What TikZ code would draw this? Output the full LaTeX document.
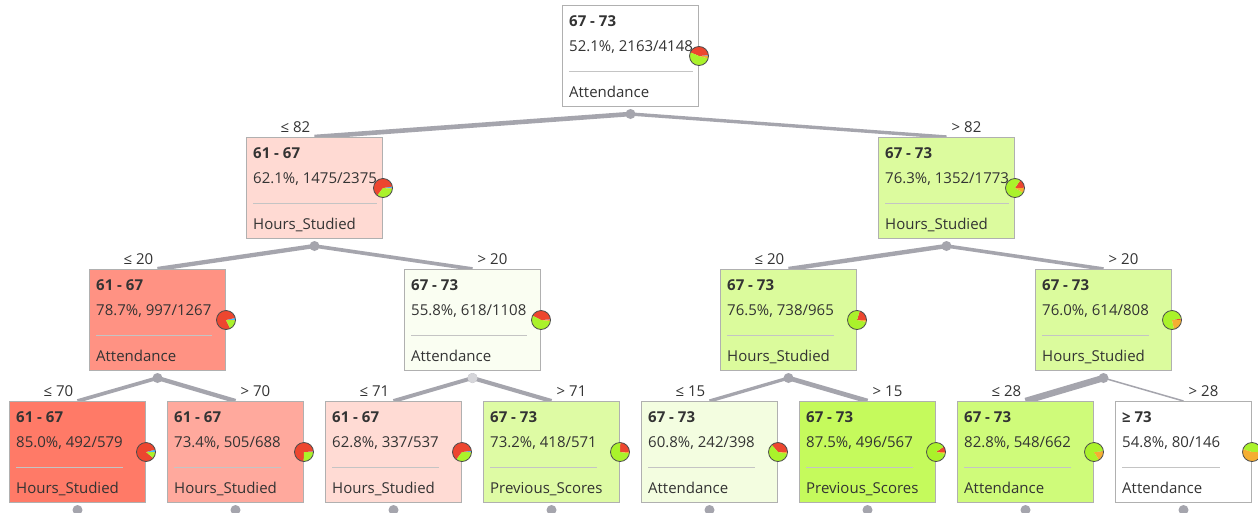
\documentclass[tikz,border=0pt]{standalone}
\usepackage{fontspec}
\setmainfont{Open Sans}
\usetikzlibrary{calc}
\pgfdeclarelayer{bg}
\pgfsetlayers{bg,main}
\definecolor{txt}{HTML}{333333}
\definecolor{bordc}{HTML}{B0B0B0}
\definecolor{sepc}{HTML}{C4C4C4}
\definecolor{edgec}{HTML}{A5A5AD}
\definecolor{dotlight}{HTML}{D6D6DA}
\definecolor{cb}{HTML}{46BEFA}
\definecolor{cr}{HTML}{ED462F}
\definecolor{cg}{HTML}{AAF22B}
\definecolor{co}{HTML}{F5AE32}
\definecolor{fl1l}{HTML}{FFDAD3}
\definecolor{fl1r}{HTML}{DCFB9E}
\definecolor{fA}{HTML}{FF9283}
\definecolor{fB}{HTML}{FAFEF2}
\definecolor{fC}{HTML}{DBFB9C}
\definecolor{fD}{HTML}{DBFB9D}
\definecolor{fn1}{HTML}{FF7A67}
\definecolor{fn2}{HTML}{FFA99D}
\definecolor{fn3}{HTML}{FFDBD4}
\definecolor{fn4}{HTML}{DEFBA4}
\definecolor{fn5}{HTML}{F3FDE0}
\definecolor{fn6}{HTML}{C5FA5C}
\definecolor{fn7}{HTML}{CFFB7A}
\definecolor{fn8}{HTML}{FFFFFF}
\tikzset{
  tbox/.style={rectangle, draw=bordc, line width=1pt, minimum width=136pt, minimum height=101pt, anchor=north west, inner sep=0pt},
  ttext/.style={anchor=base west, inner sep=0pt, text=txt, font=\fontsize{15}{17}\selectfont},
  ttitle/.style={ttext, font=\fontsize{15}{17}\selectfont\bfseries},
  tsep/.style={draw=sepc, line width=1pt},
  tdot/.style={circle, fill=edgec, minimum size=10pt, inner sep=0pt},
  edge/.style={draw=edgec},
  elabl/.style={anchor=base east, inner sep=0pt, text=txt, font=\fontsize{15}{17}\selectfont},
  elabr/.style={anchor=base west, inner sep=0pt, text=txt, font=\fontsize{15}{17}\selectfont},
  pieline/.style={draw=black!70, line width=0.8pt}
}
% #1 name, #2 left, #3 top, #4 fill, #5 title, #6 stats, #7 attribute
\newcommand\treenode[7]{%
  \node[tbox, fill=#4] (#1) at (#2,#3) {};
  \node[ttitle] (#1-t) at ([shift={(7,21)}]#1.north west) {#5};
  \node[ttext] (#1-s) at ([shift={(7,46)}]#1.north west) {#6};
  \coordinate (#1-a) at ([shift={(7,66)}]#1.north west);
  \draw[tsep] (#1-a) -- (#1-a -| #1-s.east);
  \node[ttext] (#1-v) at ([shift={(7,92)}]#1.north west) {#7};
  \node[tdot] (#1-d) at ([shift={(0,7)}]#1.south) {};
}
% #1 node, #2..#5 percentages blue, red, green, orange
\newcommand\treepie[5]{%
  \coordinate (#1-p) at ([shift={(0,51)}]#1.north east);
  \begin{scope}[shift={(#1-p)}, x=1pt, y=1pt]
    \pgfmathsetmacro\pa{3.6*(#2)}
    \pgfmathsetmacro\pb{3.6*(#2+#3)}
    \pgfmathsetmacro\pc{3.6*(#2+#3+#4)}
    \fill[cb] (0,0) -- (0:9.5) arc[start angle=0, end angle=\pa, radius=9.5] -- cycle;
    \fill[cr] (0,0) -- (\pa:9.5) arc[start angle=\pa, end angle=\pb, radius=9.5] -- cycle;
    \fill[cg] (0,0) -- (\pb:9.5) arc[start angle=\pb, end angle=\pc, radius=9.5] -- cycle;
    \fill[co] (0,0) -- (\pc:9.5) arc[start angle=\pc, end angle=360, radius=9.5] -- cycle;
    \draw[pieline] (0,0) circle[radius=9.5];
  \end{scope}
}
\begin{document}
\begin{tikzpicture}[x=1pt, y=-1pt]
\useasboundingbox (0,0) rectangle (1258,512);

\treenode{root}{562}{5}{white}{67 - 73}{52.1\%, 2163/4148}{Attendance}
\treenode{l1l}{246}{137}{fl1l}{61 - 67}{62.1\%, 1475/2375}{Hours\_Studied}
\treenode{l1r}{878}{137}{fl1r}{67 - 73}{76.3\%, 1352/1773}{Hours\_Studied}
\treenode{nA}{89}{269}{fA}{61 - 67}{78.7\%, 997/1267}{Attendance}
\treenode{nB}{404}{269}{fB}{67 - 73}{55.8\%, 618/1108}{Attendance}
\treenode{nC}{720}{269}{fC}{67 - 73}{76.5\%, 738/965}{Hours\_Studied}
\treenode{nD}{1035}{269}{fD}{67 - 73}{76.0\%, 614/808}{Hours\_Studied}
\treenode{n1}{9}{401}{fn1}{61 - 67}{85.0\%, 492/579}{Hours\_Studied}
\treenode{n2}{167}{401}{fn2}{61 - 67}{73.4\%, 505/688}{Hours\_Studied}
\treenode{n3}{325}{401}{fn3}{61 - 67}{62.8\%, 337/537}{Hours\_Studied}
\treenode{n4}{483}{401}{fn4}{67 - 73}{73.2\%, 418/571}{Previous\_Scores}
\treenode{n5}{641}{401}{fn5}{67 - 73}{60.8\%, 242/398}{Attendance}
\treenode{n6}{799}{401}{fn6}{67 - 73}{87.5\%, 496/567}{Previous\_Scores}
\treenode{n7}{957}{401}{fn7}{67 - 73}{82.8\%, 548/662}{Attendance}
\treenode{n8}{1115}{401}{fn8}{≥ 73}{54.8\%, 80/146}{Attendance}

\node[tdot, fill=dotlight] at (nB-d) {};

\treepie{root}{1.4}{42.3}{52.1}{4.2}
\treepie{l1l}{2.5}{62.1}{34.1}{1.3}
\treepie{l1r}{0.5}{15.0}{76.3}{8.2}
\treepie{nA}{3.5}{78.7}{17.3}{0.5}
\treepie{nB}{1.0}{41.5}{55.8}{1.7}
\treepie{nC}{0.3}{20.0}{76.5}{3.2}
\treepie{nD}{0.5}{2.0}{76.0}{21.5}
\treepie{n1}{4.0}{85.0}{10.5}{0.5}
\treepie{n2}{1.0}{73.4}{25.2}{0.4}
\treepie{n3}{2.0}{62.8}{34.7}{0.5}
\treepie{n4}{0.5}{24.0}{73.2}{2.3}
\treepie{n5}{0.5}{36.0}{60.8}{2.7}
\treepie{n6}{0.1}{9.5}{87.5}{2.9}
\treepie{n7}{0.2}{1.0}{82.8}{16.0}
\treepie{n8}{0.0}{0.0}{45.2}{54.8}

\begin{pgfonlayer}{bg}
\fill[white] (0,0) rectangle (1258,512);
\draw[edge, line width=4.6pt] (root-d.center) -- (l1l.north);
\draw[edge, line width=3.4pt] (root-d.center) -- (l1r.north);
\draw[edge, line width=4.3pt] (l1l-d.center) -- (nA.north);
\draw[edge, line width=3.7pt] (l1l-d.center) -- (nB.north);
\draw[edge, line width=4.4pt] (l1r-d.center) -- (nC.north);
\draw[edge, line width=3.6pt] (l1r-d.center) -- (nD.north);
\draw[edge, line width=3.7pt] (nA-d.center) -- (n1.north);
\draw[edge, line width=4.3pt] (nA-d.center) -- (n2.north);
\draw[edge, line width=3.9pt] (nB-d.center) -- (n3.north);
\draw[edge, line width=4.1pt] (nB-d.center) -- (n4.north);
\draw[edge, line width=3.3pt] (nC-d.center) -- (n5.north);
\draw[edge, line width=4.7pt] (nC-d.center) -- (n6.north);
\draw[edge, line width=6.5pt] (nD-d.center) -- (n7.north);
\draw[edge, line width=1.5pt] (nD-d.center) -- (n8.north);
\end{pgfonlayer}

\node[elabl] at ([shift={(-4,-5)}]l1l.north) {≤ 82};
\node[elabr] at ([shift={(5,-5)}]l1r.north) {> 82};
\node[elabl] at ([shift={(-4,-5)}]nA.north) {≤ 20};
\node[elabr] at ([shift={(5,-5)}]nB.north) {> 20};
\node[elabl] at ([shift={(-4,-5)}]nC.north) {≤ 20};
\node[elabr] at ([shift={(5,-5)}]nD.north) {> 20};
\node[elabl] at ([shift={(-4,-5)}]n1.north) {≤ 70};
\node[elabr] at ([shift={(5,-5)}]n2.north) {> 70};
\node[elabl] at ([shift={(-4,-5)}]n3.north) {≤ 71};
\node[elabr] at ([shift={(5,-5)}]n4.north) {> 71};
\node[elabl] at ([shift={(-4,-5)}]n5.north) {≤ 15};
\node[elabr] at ([shift={(5,-5)}]n6.north) {> 15};
\node[elabl] at ([shift={(-4,-5)}]n7.north) {≤ 28};
\node[elabr] at ([shift={(5,-5)}]n8.north) {> 28};
\end{tikzpicture}
\end{document}
